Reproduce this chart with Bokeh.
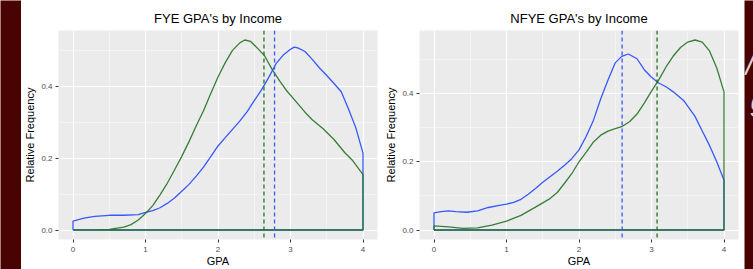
from bokeh.plotting import figure
from bokeh.layouts import row, column
from bokeh.models import FixedTicker, Span, PrintfTickFormatter, Range1d
from bokeh.core.properties import value
from bokeh.embed import file_html
from bokeh.resources import INLINE

# ---------------- data ----------------
fye_blue_x = [0.0, 0.15, 0.3, 0.5, 0.7, 0.9, 1.0, 1.1, 1.2, 1.3, 1.4, 1.5, 1.6, 1.7, 1.8, 1.9, 2.0,
              2.1, 2.2, 2.3, 2.4, 2.5, 2.6, 2.7, 2.8, 2.9, 3.0, 3.05, 3.1, 3.2, 3.3, 3.4, 3.5, 3.6,
              3.7, 3.8, 3.9, 4.0]
fye_blue_y = [0.025, 0.033, 0.038, 0.041, 0.041, 0.043, 0.049, 0.054, 0.062, 0.074, 0.089, 0.108,
              0.127, 0.150, 0.175, 0.204, 0.234, 0.257, 0.280, 0.303, 0.329, 0.360, 0.390, 0.425,
              0.463, 0.487, 0.503, 0.509, 0.507, 0.497, 0.475, 0.451, 0.430, 0.408, 0.385, 0.337,
              0.285, 0.214]
fye_green_x = [0.0, 0.3, 0.5, 0.7, 0.8, 0.9, 1.0, 1.1, 1.2, 1.3, 1.4, 1.5, 1.6, 1.7, 1.8, 1.9, 2.0,
               2.1, 2.2, 2.3, 2.37, 2.45, 2.55, 2.64, 2.75, 2.85, 2.95, 3.1, 3.2, 3.3, 3.45, 3.6,
               3.75, 3.85, 4.0]
fye_green_y = [0.0, 0.0005, 0.002, 0.008, 0.015, 0.028, 0.046, 0.068, 0.098, 0.130, 0.167, 0.205,
               0.246, 0.290, 0.332, 0.380, 0.426, 0.466, 0.500, 0.521, 0.529, 0.525, 0.505, 0.486,
               0.446, 0.415, 0.387, 0.352, 0.328, 0.307, 0.282, 0.252, 0.215, 0.195, 0.154]

nfye_blue_x = [0.0, 0.1, 0.2, 0.3, 0.45, 0.6, 0.75, 0.9, 1.0, 1.1, 1.2, 1.3, 1.4, 1.5, 1.6, 1.7,
               1.8, 1.9, 2.0, 2.1, 2.2, 2.3, 2.4, 2.5, 2.59, 2.68, 2.8, 2.9, 3.0, 3.1, 3.2, 3.3,
               3.45, 3.6, 3.7, 3.8, 3.9, 4.0]
nfye_blue_y = [0.050, 0.054, 0.056, 0.054, 0.052, 0.056, 0.066, 0.072, 0.076, 0.081, 0.090, 0.105,
               0.122, 0.140, 0.156, 0.172, 0.190, 0.209, 0.235, 0.275, 0.322, 0.385, 0.440, 0.490,
               0.509, 0.516, 0.502, 0.470, 0.448, 0.431, 0.420, 0.405, 0.378, 0.333, 0.290, 0.248,
               0.200, 0.146]
nfye_green_x = [0.0, 0.2, 0.4, 0.6, 0.8, 1.0, 1.2, 1.4, 1.6, 1.7, 1.8, 1.9, 2.0, 2.1, 2.2, 2.3,
                2.4, 2.5, 2.6, 2.7, 2.8, 2.9, 3.0, 3.1, 3.2, 3.3, 3.4, 3.5, 3.6, 3.7, 3.8, 3.9, 4.0]
nfye_green_y = [0.012, 0.009, 0.005, 0.006, 0.014, 0.026, 0.043, 0.067, 0.092, 0.110, 0.137, 0.165,
                0.200, 0.228, 0.258, 0.278, 0.290, 0.297, 0.304, 0.318, 0.340, 0.372, 0.407, 0.440,
                0.478, 0.510, 0.535, 0.551, 0.557, 0.551, 0.525, 0.475, 0.405]

fye_means = {"blue": 2.78, "green": 2.634}
nfye_means = {"blue": 2.595, "green": 3.077}

titles = ["FYE GPA's by Income", "NFYE GPA's by Income"]
x_ticks = [0, 1, 2, 3, 4]
x_minor = [0.5, 1.5, 2.5, 3.5]
y_ticks = [0.0, 0.2, 0.4]
y_minor = [0.1, 0.3, 0.5]
x_label = "GPA"
y_label = "Relative Frequency"
edge_glyphs = ["/", "g"]

BLUE = "#3558FF"
GREEN = "#237323"
MAROON = "#4A0303"
FONT = "Liberation Sans"
H_ALL = 269
TOP = 3
H = H_ALL - TOP


def closed(xs, ys):
    return [xs[0]] + list(xs) + [xs[-1], xs[0]], [0] + list(ys) + [0, 0]


def panel(title, bx, by, gx, gy, means, width, mbl, mbr):
    ymax = max(max(by), max(gy))
    p = figure(width=width, height=H, output_backend="svg", toolbar_location=None,
               x_range=Range1d(-0.2, 4.2), y_range=Range1d(-0.05 * ymax, 1.05 * ymax),
               min_border_left=mbl, min_border_right=mbr, min_border_top=27,
               min_border_bottom=29, title=title)
    p.background_fill_color = "#EBEBEB"
    p.border_fill_color = "white"
    p.outline_line_color = None

    p.title.align = "center"
    p.title.text_font = FONT
    p.title.text_font_size = "13px"
    p.title.text_font_style = "normal"
    p.title.text_color = "black"
    p.title.standoff = 9

    p.xaxis.ticker = FixedTicker(ticks=x_ticks, minor_ticks=x_minor)
    p.yaxis.ticker = FixedTicker(ticks=y_ticks, minor_ticks=y_minor)
    p.yaxis.formatter = PrintfTickFormatter(format="%.1f")
    p.xaxis.axis_label = x_label
    p.yaxis.axis_label = y_label
    for ax in (p.xaxis, p.yaxis):
        ax.axis_line_color = None
        ax.major_tick_line_color = "#333333"
        ax.major_tick_out = 3
        ax.major_tick_in = 0
        ax.minor_tick_line_color = None
        ax.major_label_text_font = FONT
        ax.major_label_text_font_size = "8px"
        ax.major_label_text_color = "#4D4D4D"
        ax.axis_label_text_font = FONT
        ax.axis_label_text_font_size = "11px"
        ax.axis_label_text_font_style = "normal"
        ax.axis_label_text_color = "black"
    p.xaxis.major_label_standoff = 3
    p.xaxis.axis_label_standoff = 0
    p.yaxis.major_label_standoff = 2
    p.yaxis.axis_label_standoff = 2

    for g in (p.xgrid, p.ygrid):
        g.grid_line_color = "white"
        g.grid_line_width = 1.2
        g.minor_grid_line_color = "white"
        g.minor_grid_line_alpha = 0.6
        g.minor_grid_line_width = 0.7

    lx, ly = closed(bx, by)
    p.line(lx, ly, line_color=BLUE, line_width=1.3)
    lx, ly = closed(gx, gy)
    p.line(lx, ly, line_color=GREEN, line_width=1.3, line_alpha=0.9)

    for key, col in (("blue", BLUE), ("green", GREEN)):
        p.add_layout(Span(location=means[key], dimension="height", line_color=col,
                          line_dash="4 3", line_width=1.3))
    return p


def spacer(width, height, glyphs=False):
    s = figure(width=width, height=height, output_backend="svg", toolbar_location=None,
               x_axis_location=None, y_axis_location=None, min_border=0,
               x_range=Range1d(0, width), y_range=Range1d(height, 0))
    s.background_fill_color = MAROON
    s.border_fill_color = MAROON
    s.outline_line_color = None
    s.grid.visible = False
    if glyphs:
        s.text(x=[1, 6], y=[64, 100], text=edge_glyphs, text_color="#DDD2D2",
               text_font=value(FONT), text_font_size="30px", text_font_style="italic",
               text_baseline="alphabetic")
    return s


p1 = panel(titles[0], fye_blue_x, fye_blue_y, fye_green_x, fye_green_y, fye_means,
           width=359, mbl=36, mbr=3)
p2 = panel(titles[1], nfye_blue_x, nfye_blue_y, nfye_green_x, nfye_green_y, nfye_means,
           width=364, mbl=39, mbr=6)

middle = column(spacer(723, TOP), row(p1, p2))
layout = row(spacer(21, H_ALL), middle, spacer(9, H_ALL, glyphs=True))
open("out.html", "w").write(file_html(layout, INLINE))
